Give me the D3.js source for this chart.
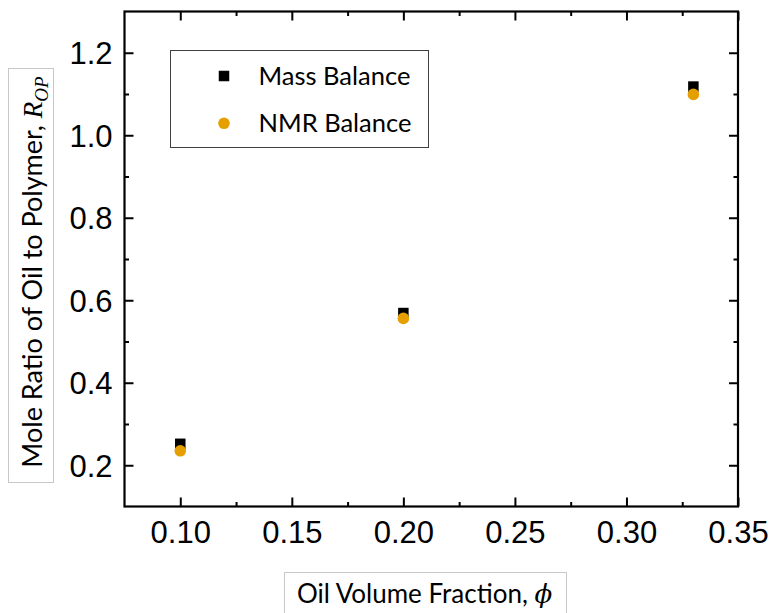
<!DOCTYPE html>
<html>
<head>
<meta charset="utf-8">
<script src="https://cdn.jsdelivr.net/npm/d3@7"></script>
<style>
	body { margin: 0; background: #fff; }
	svg { display: block; }
</style>
</head>
<body>
<div class="chart"></div>
<script>

// oil volume fraction of each sample
var phi = [0.10, 0.20, 0.33];

// mole ratio of oil to polymer from both methods
var massBalance = [0.252, 0.569, 1.118];
var nmrBalance = [0.235, 0.556, 1.099];

var seriesNames = ["Mass Balance", "NMR Balance"];

var xTicks = [0.10, 0.15, 0.20, 0.25, 0.30, 0.35];
var xMinorTicks = [0.125, 0.175, 0.225, 0.275, 0.325];
var yTicks = [0.2, 0.4, 0.6, 0.8, 1.0, 1.2];
var yMinorTicks = [0.3, 0.5, 0.7, 0.9, 1.1];

var orange = "#e69f00";
var labelFont = "Lato, 'Open Sans', sans-serif";
var tickFont = "'Liberation Sans', Arial, sans-serif";

// set the dimensions and margins of the graph
var margin = {top: 11.5, right: 36, bottom: 106.5, left: 124.5},
	width = 774 - margin.left - margin.right,
	height = 613 - margin.top - margin.bottom;

var svg = d3.select(".chart")
	.append("svg")
	.attr("width", 774)
	.attr("height", 613);

var g = svg.append("g")
	.attr("transform", "translate(" + margin.left + "," + margin.top + ")");

var x = d3.scaleLinear()
	.domain([0.075, 0.35])
	.range([0, width]);

var y = d3.scaleLinear()
	.domain([0.1, 1.3])
	.range([height, 0]);

/* ********* axes, ticks point inward on all four sides ********* */

function tickAxis(axis, ticks, size, fmt) {
	return axis.tickValues(ticks).tickSizeInner(-size).tickSizeOuter(0).tickFormat(fmt);
}

var noLabel = function() { return ""; };

// bottom
var bottomAxis = g.append("g")
	.attr("transform", "translate(0," + height + ")");
bottomAxis.append("g").call(tickAxis(d3.axisBottom(x), xMinorTicks, 4.5, noLabel));
bottomAxis.append("g").call(tickAxis(d3.axisBottom(x), xTicks, 9, d3.format(".2f")))
	.selectAll("text")
	.attr("dy", null)
	.attr("y", 36)
	.style("font-family", tickFont)
	.style("font-size", "31px")
	.style("fill", "#000");

// top
var topAxis = g.append("g");
topAxis.append("g").call(tickAxis(d3.axisTop(x), xMinorTicks, 4.5, noLabel));
topAxis.append("g").call(tickAxis(d3.axisTop(x), xTicks, 9, noLabel));

// left
var leftAxis = g.append("g");
leftAxis.append("g").call(tickAxis(d3.axisLeft(y), yMinorTicks, 4.5, noLabel));
leftAxis.append("g").call(tickAxis(d3.axisLeft(y), yTicks, 9, d3.format(".1f")))
	.selectAll("text")
	.attr("x", -12)
	.attr("dy", "0.36em")
	.style("font-family", tickFont)
	.style("font-size", "31px")
	.style("fill", "#000");

// right
var rightAxis = g.append("g")
	.attr("transform", "translate(" + width + ",0)");
rightAxis.append("g").call(tickAxis(d3.axisRight(y), yMinorTicks, 4.5, noLabel));
rightAxis.append("g").call(tickAxis(d3.axisRight(y), yTicks, 9, noLabel));

g.selectAll(".domain").remove();
g.selectAll(".tick line")
	.attr("stroke", "#000")
	.attr("stroke-width", 2);

// frame
g.append("rect")
	.attr("x", 0)
	.attr("y", 0)
	.attr("width", width)
	.attr("height", height)
	.attr("fill", "none")
	.attr("stroke", "#000")
	.attr("stroke-width", 2.2);

/* ********* points ********* */

var sq = 10.5;

g.append("g")
	.selectAll("rect")
	.data(phi)
	.join("rect")
	.attr("x", (d) => x(d) - sq / 2)
	.attr("y", (d, i) => y(massBalance[i]) - sq / 2)
	.attr("width", sq)
	.attr("height", sq)
	.attr("fill", "#000");

g.append("g")
	.selectAll("circle")
	.data(phi)
	.join("circle")
	.attr("cx", (d) => x(d))
	.attr("cy", (d, i) => y(nmrBalance[i]))
	.attr("r", 5.8)
	.attr("fill", orange);

/* ********* legend ********* */

var legend = svg.append("g")
	.attr("transform", "translate(170.5,50.5)");

legend.append("rect")
	.attr("width", 258)
	.attr("height", 97)
	.attr("fill", "#fff")
	.attr("stroke", "#404040")
	.attr("stroke-width", 1);

legend.append("rect")
	.attr("x", 53.5 - sq / 2)
	.attr("y", 25.5 - sq / 2)
	.attr("width", sq)
	.attr("height", sq)
	.attr("fill", "#000");

legend.append("circle")
	.attr("cx", 53.5)
	.attr("cy", 72.8)
	.attr("r", 5.8)
	.attr("fill", orange);

legend.selectAll("text")
	.data(seriesNames)
	.join("text")
	.attr("x", 88)
	.attr("y", (d, i) => 34.5 + i * 47)
	.style("font-family", labelFont)
	.style("font-size", "25.5px")
	.style("fill", "#000")
	.text(d => d);

/* ********* axis titles in their boxes ********* */

svg.append("rect")
	.attr("x", 8.5)
	.attr("y", 68.5)
	.attr("width", 45)
	.attr("height", 414)
	.attr("fill", "#fff")
	.attr("stroke", "#c8c8c8")
	.attr("stroke-width", 1);

var yTitle = svg.append("text")
	.attr("transform", "translate(41.5,272) rotate(-90)")
	.attr("text-anchor", "middle")
	.style("font-family", labelFont)
	.style("font-size", "27px")
	.style("fill", "#000");

yTitle.append("tspan").text("Mole Ratio of Oil to Polymer, ");
yTitle.append("tspan")
	.style("font-family", "'Liberation Serif', 'DejaVu Serif', serif")
	.style("font-style", "italic")
	.text("R");
yTitle.append("tspan")
	.attr("dy", 6)
	.style("font-family", "'Liberation Serif', 'DejaVu Serif', serif")
	.style("font-style", "italic")
	.style("font-size", "19px")
	.text("OP");

svg.append("rect")
	.attr("x", 284.5)
	.attr("y", 572.5)
	.attr("width", 282)
	.attr("height", 60)
	.attr("fill", "#fff")
	.attr("stroke", "#c8c8c8")
	.attr("stroke-width", 1);

var xTitle = svg.append("text")
	.attr("x", 297)
	.attr("y", 603)
	.style("font-family", labelFont)
	.style("font-size", "26px")
	.style("fill", "#000");

xTitle.append("tspan").text("Oil Volume Fraction, ");
xTitle.append("tspan")
	.style("font-family", "'DejaVu Serif', serif")
	.style("font-style", "italic")
	.text("\u03d5");

</script>
</body>
</html>
